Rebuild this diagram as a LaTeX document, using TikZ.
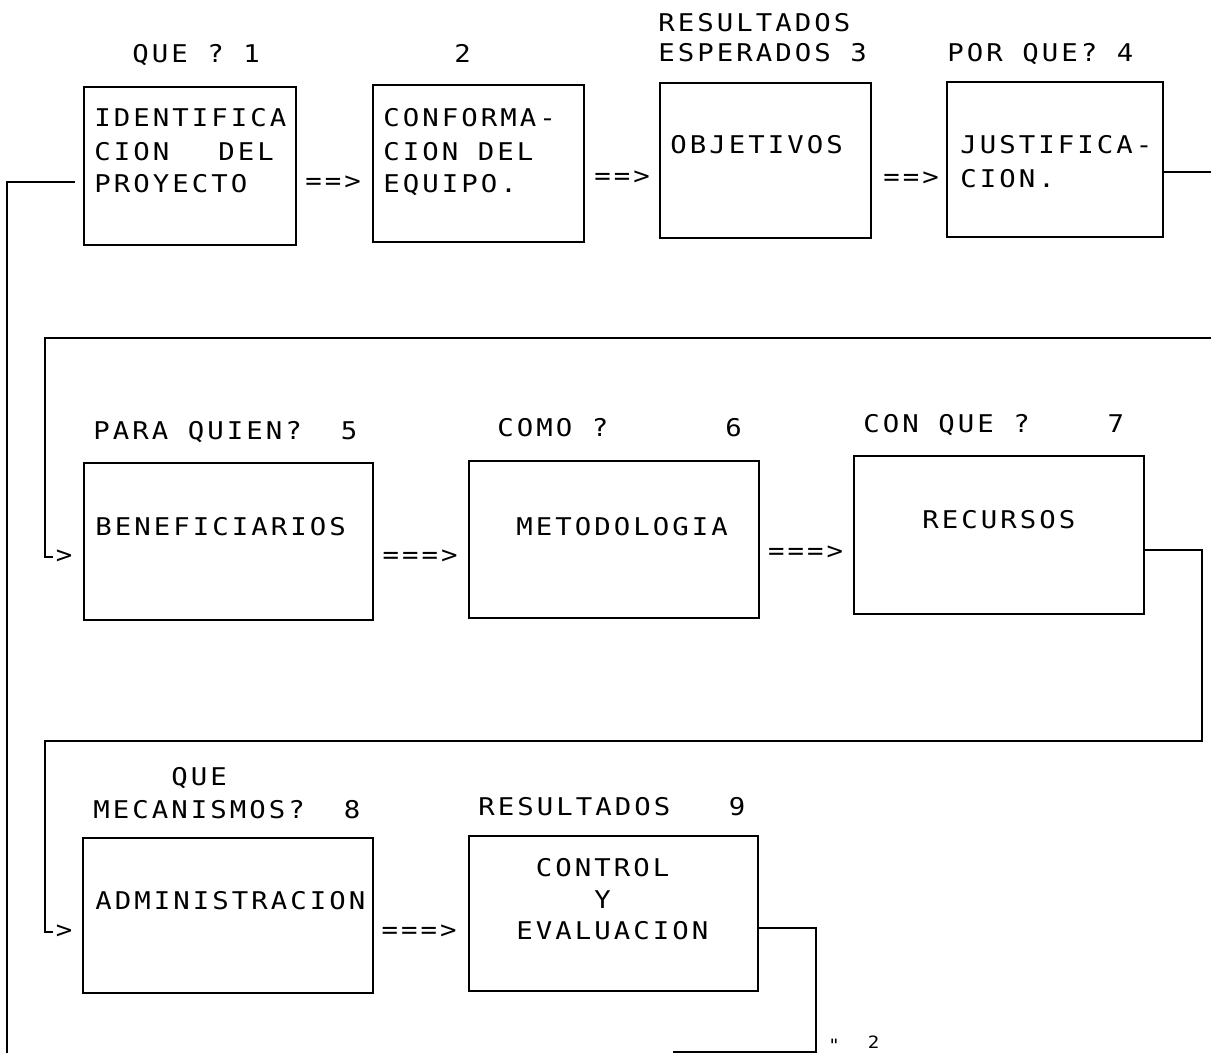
\documentclass[tikz,border=0pt]{standalone}
\usepackage{fontspec}
\newfontfamily\plotf[FakeStretch=1.12,LetterSpace=12.5]{DejaVu Sans Mono}
\newcommand\pfont{\plotf\fontsize{12.2}{16}\selectfont\spaceskip=9.75pt plus 0pt minus 0pt\relax}
\newcommand\psmall{\plotf\fontsize{8.5}{10}\selectfont\spaceskip=7pt plus 0pt minus 0pt\relax}
\usetikzlibrary{fit}
\begin{document}
\begin{tikzpicture}[x=0.5pt,y=-0.5pt,
  box/.style={draw, line width=1pt, inner sep=0pt},
  conn/.style={line width=1pt},
  txt/.style={inner sep=0pt, anchor=base west},
  sym/.style={inner sep=0pt, anchor=center},
  small/.style={inner sep=0pt, anchor=base west}
]
\fill[white] (0,0) rectangle (1211,1053);
\useasboundingbox (0,0) rectangle (1211,1053);

% boxes
\node[box, fit={(84,87) (296,245)}] (b1) {};
\node[box, fit={(373,85) (584,242)}] (b2) {};
\node[box, fit={(660,83) (871,238)}] (b3) {};
\node[box, fit={(947,82) (1163,237)}] (b4) {};
\node[box, fit={(84,463) (373,620)}] (b5) {};
\node[box, fit={(469,461) (759,618)}] (b6) {};
\node[box, fit={(854,456) (1144,614)}] (b7) {};
\node[box, fit={(83,838) (373,993)}] (b8) {};
\node[box, fit={(469,836) (758,991)}] (b9) {};

% row 1 labels
\node[txt] (l1) at (132,63) {\pfont QUE ? 1};
\node[txt] (l2) at (454,63) {\pfont 2};
\node[txt] (l3a) at (658,31.7) {\pfont RESULTADOS};
\node[txt] (l3b) at (658,61.7) {\pfont ESPERADOS 3};
\node[txt] (l4) at (947,62) {\pfont POR QUE? 4};
% row 1 texts
\node[txt] (t1a) at (94,127) {\pfont IDENTIFICA};
\node[txt] (t1b) at (94,161) {\pfont CION~~\hspace*{5pt}DEL};
\node[txt] (t1c) at (94,193) {\pfont PROYECTO};
\node[txt] (t2a) at (383,127) {\pfont CONFORMA-};
\node[txt] (t2b) at (383,161) {\pfont CION DEL};
\node[txt] (t2c) at (383,193) {\pfont EQUIPO.};
\node[txt] (t3) at (670,154) {\pfont OBJETIVOS};
\node[txt] (t4a) at (960,154) {\pfont JUSTIFICA-};
\node[txt] (t4b) at (960,188) {\pfont CION.};
\node[sym] (a12) at (333,183) {\pfont ==>};
\node[sym] (a23) at (622,178) {\pfont ==>};
\node[sym] (a34) at (911,179) {\pfont ==>};

% row 2
\node[txt] (l5) at (93,440) {\pfont PARA QUIEN?~~5};
\node[txt] (l6) at (497,437) {\pfont COMO ?~~~~~~6};
\node[txt] (l7) at (863,433) {\pfont CON QUE ?~~~~7};
\node[txt] (t5) at (95,536) {\pfont BENEFICIARIOS};
\node[txt] (t6) at (516,536) {\pfont METODOLOGIA};
\node[txt] (t7) at (922,529) {\pfont RECURSOS};
\node[sym] (a56) at (420,557) {\pfont ===>};
\node[sym] (a67) at (805.5,553) {\pfont ===>};

% row 3
\node[txt] (l8a) at (93,785) {\pfont ~~~~QUE};
\node[txt] (l8b) at (93,818) {\pfont MECANISMOS?~~8};
\node[txt] (l9) at (478,815) {\pfont RESULTADOS~~~9};
\node[txt] (t8) at (95,909) {\pfont ADMINISTRACION};
\node[txt] (t9a) at (516,876) {\pfont ~CONTROL};
\node[txt] (t9b) at (516,908) {\pfont ~~~~Y};
\node[txt] (t9c) at (516,939) {\pfont EVALUACION};
\node[sym] (a89) at (419,931.7) {\pfont ===>};

% arrow heads at left
\node[sym] (g5) at (64,557) {\pfont >};
\node[sym] (g8) at (64,931.7) {\pfont >};

% end label
\node[small] (e2) at (828,1048) {\psmall\raisebox{-1.5pt}{"}~~2};

% connectors
\coordinate (c1s) at (75,181.7);
\coordinate (c1e) at (7,1053);
\draw[conn] (c1s) -| (c1e);

\coordinate (c4e) at (1211,171.7);
\draw[conn] (b4.east |- c4e) -- (c4e);

\coordinate (c5s) at (1211,338);
\coordinate (c5e) at (53,557);
\draw[conn] (c5s) -- (45,338) -- (45,557) -- (c5e);

\coordinate (c7a) at (1202,550);
\coordinate (c8e) at (53,931.7);
\draw[conn] (b7.east |- c7a) -- (c7a) -- (1202,741) -- (45,741) -- (45,931.7) -- (c8e);

\coordinate (c9a) at (815.5,928.3);
\coordinate (c9e) at (673,1051.7);
\draw[conn] (b9.east |- c9a) -- (c9a) -- (815.5,1051.7) -- (c9e);
\end{tikzpicture}
\end{document}
